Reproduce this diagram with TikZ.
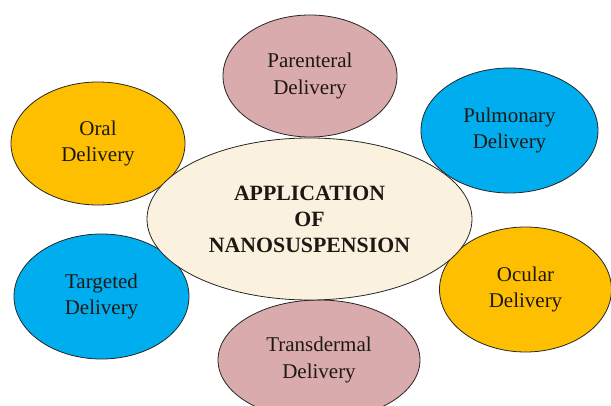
\documentclass[tikz,border=0pt]{standalone}
\usepackage{fontspec}
\setmainfont{Liberation Serif}
\usetikzlibrary{shapes.geometric}
\definecolor{goldenyellow}{RGB}{254,191,0}
\definecolor{skyblue}{RGB}{0,174,239}
\definecolor{dustypink}{RGB}{218,171,173}
\definecolor{parchment}{RGB}{250,241,222}
\definecolor{inkbrown}{RGB}{30,24,20}

\begin{document}
\begin{tikzpicture}[x=1pt,y=-1pt,
    route/.style={ellipse, draw=black!85, line width=0.8pt, inner sep=0pt,
      align=center, text=inkbrown, font=\fontsize{21}{26.5}\selectfont},
    hub/.style={route, fill=parchment, font=\fontsize{21.8}{26}\selectfont\bfseries}]
  \useasboundingbox (0,0) rectangle (611,406);
  \clip (0,0) rectangle (611,406);

  % the six routes round the centre
  \node[route, fill=dustypink, minimum width=174pt, minimum height=122pt] (parenteral) at (310,76) {Parenteral\\Delivery};
  \node[route, fill=skyblue, minimum width=177pt, minimum height=125pt] (pulmonary) at (509.5,130.5) {Pulmonary\\Delivery};
  \node[route, fill=goldenyellow, minimum width=174pt, minimum height=123pt] (oral) at (98,143.5) {Oral\\Delivery};
  \node[route, fill=skyblue, minimum width=175pt, minimum height=125pt] (targeted) at (101.5,296.5) {Targeted\\Delivery};
  \node[route, fill=goldenyellow, minimum width=172pt, minimum height=125pt] (ocular) at (525.5,289.5) {Ocular\\Delivery};
  \node[route, fill=dustypink, minimum width=202pt, minimum height=120pt] (transdermal) at (319,360) {Transdermal\\Delivery};

  % centre
  \node[hub, minimum width=325pt, minimum height=162pt] (application) at (309.5,219) {APPLICATION\\OF\\NANOSUSPENSION};
\end{tikzpicture}
\end{document}
